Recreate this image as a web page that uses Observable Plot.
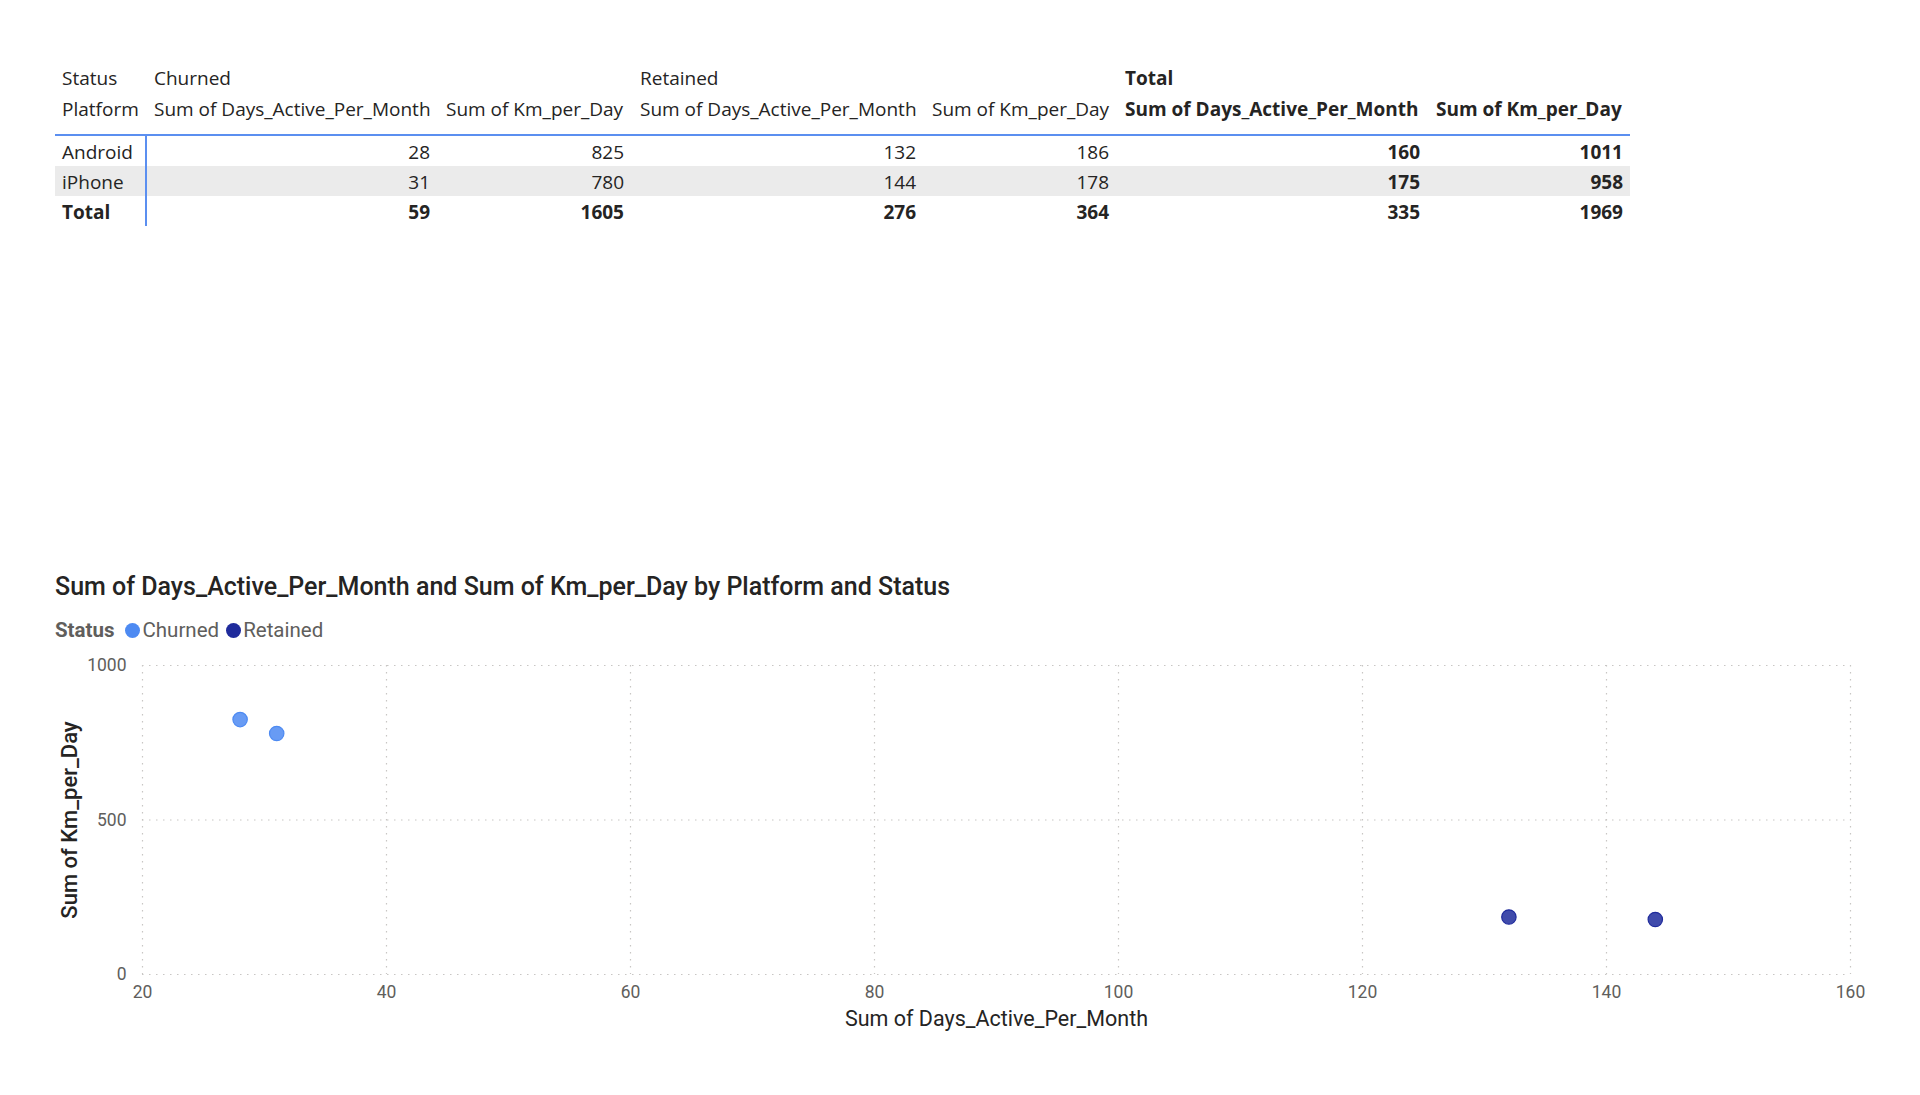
<!DOCTYPE html>
<html>
<head>
<meta charset="utf-8">
<script src="https://cdn.jsdelivr.net/npm/d3@7"></script>
<script src="https://cdn.jsdelivr.net/npm/@observablehq/plot@0.6"></script>
<style>
  body { margin: 0; background: #fff; width: 1920px; height: 1095px; position: relative; overflow: hidden; }
  .cell { position: absolute; height: 30px; line-height: 30px; font-family: "Open Sans", sans-serif; font-size: 19px; color: #252423; white-space: nowrap; box-sizing: border-box; padding: 0 8px; }
  .bold { font-weight: 700; }
  .right { text-align: right; }
  #title { position: absolute; left: 55px; top: 572px; font-family: Roboto, sans-serif; font-size: 25px; font-weight: 500; color: #252423; white-space: nowrap; }
  #legend { position: absolute; left: 55px; top: 618px; font-family: Roboto, sans-serif; font-size: 20.5px; color: #605e5c; display: flex; align-items: center; white-space: nowrap; }
  #legend b { margin-right: 11px; }
  #legend .sw { display: inline-block; width: 15px; height: 15px; border-radius: 50%; margin-right: 2px; }
  #legend .item { display: flex; align-items: center; margin-right: 7px; }
  #chart { position: absolute; left: 0; top: 640px; }
</style>
</head>
<body>
<div id="table"></div>
<div id="title">Sum of Days_Active_Per_Month and Sum of Km_per_Day by Platform and Status</div>
<div id="legend"></div>
<div id="chart"></div>
<script>
// values
const platforms = ["Android", "iPhone"];
const statuses = ["Churned", "Retained"];
const churnedDays = [28, 31];
const churnedKm = [825, 780];
const retainedDays = [132, 144];
const retainedKm = [186, 178];
const measures = ["Sum of Days_Active_Per_Month", "Sum of Km_per_Day"];
const statusColors = ["#4d8af2", "#1f2b9c"];
const xTicks = [20, 40, 60, 80, 100, 120, 140, 160];
const yTicks = [0, 500, 1000];

// ---- matrix table ----
const colLefts = [55, 146, 438, 632, 924, 1117, 1428];
const colWidths = [91, 292, 194, 292, 193, 311, 203];
const rowTops = {h1: 63, h2: 94, r0: 137, r1: 167, tot: 197};
const tbl = d3.select("#table");

function cell(text, col, top, cls) {
  tbl.append("div")
    .attr("class", "cell " + (cls || ""))
    .style("left", colLefts[col] + "px")
    .style("top", top + "px")
    .style("width", colWidths[col] + "px")
    .style("padding-left", col === 0 ? "7px" : null)
    .text(text);
}

// iPhone row band
tbl.append("div")
  .style("position", "absolute").style("left", "55px").style("top", "166px")
  .style("width", "1575px").style("height", "30px").style("background", "#ebebeb");

cell("Status", 0, rowTops.h1);
cell("Churned", 1, rowTops.h1);
cell("Retained", 3, rowTops.h1);
cell("Total", 5, rowTops.h1, "bold");
cell("Platform", 0, rowTops.h2);
[1, 3].forEach(c => { cell(measures[0], c, rowTops.h2); cell(measures[1], c + 1, rowTops.h2); });
cell(measures[0], 5, rowTops.h2, "bold");
cell(measures[1], 6, rowTops.h2, "bold");

const rowKeys = ["r0", "r1"];
platforms.forEach((p, i) => {
  const top = rowTops[rowKeys[i]];
  cell(p, 0, top);
  cell(churnedDays[i], 1, top, "right");
  cell(churnedKm[i], 2, top, "right");
  cell(retainedDays[i], 3, top, "right");
  cell(retainedKm[i], 4, top, "right");
  cell(churnedDays[i] + retainedDays[i], 5, top, "right bold");
  cell(churnedKm[i] + retainedKm[i], 6, top, "right bold");
});
cell("Total", 0, rowTops.tot, "bold");
cell(d3.sum(churnedDays), 1, rowTops.tot, "right bold");
cell(d3.sum(churnedKm), 2, rowTops.tot, "right bold");
cell(d3.sum(retainedDays), 3, rowTops.tot, "right bold");
cell(d3.sum(retainedKm), 4, rowTops.tot, "right bold");
cell(d3.sum(churnedDays) + d3.sum(retainedDays), 5, rowTops.tot, "right bold");
cell(d3.sum(churnedKm) + d3.sum(retainedKm), 6, rowTops.tot, "right bold");

// header rule and row-header rule
tbl.append("div")
  .style("position", "absolute").style("left", "55px").style("top", "134px")
  .style("width", "1575px").style("height", "1.5px").style("background", "#5b8ff0");
tbl.append("div")
  .style("position", "absolute").style("left", "145px").style("top", "135px")
  .style("width", "1.5px").style("height", "91px").style("background", "#5b8ff0");

// ---- legend ----
const legend = d3.select("#legend");
legend.append("b").text("Status");
statuses.forEach((s, i) => {
  const it = legend.append("span").attr("class", "item");
  it.append("span").attr("class", "sw").style("background", statusColors[i]);
  it.append("span").text(s);
});

// ---- scatter ----
const points = [];
platforms.forEach((p, i) => {
  points.push({platform: p, status: "Churned", days: churnedDays[i], km: churnedKm[i]});
  points.push({platform: p, status: "Retained", days: retainedDays[i], km: retainedKm[i]});
});

const gridStyle = {stroke: "#c8c6c4", strokeOpacity: 1, strokeWidth: 1.2, strokeDasharray: "1.5,5.5"};

const chart = Plot.plot({
  width: 1920,
  height: 394,
  marginTop: 25,
  marginLeft: 142,
  marginRight: 70,
  marginBottom: 60,
  style: {fontFamily: "Roboto, sans-serif", fontSize: "17px", color: "#605e5c", background: "transparent"},
  x: {domain: [20, 160]},
  y: {domain: [0, 1000]},
  color: {domain: statuses, range: statusColors},
  marks: [
    Plot.gridX(xTicks, gridStyle),
    Plot.gridY(yTicks, gridStyle),
    Plot.axisX(xTicks, {tickSize: 0, tickPadding: 11, label: null, fill: "#605e5c", fontSize: 17.5, tickFormat: d => String(d)}),
    Plot.axisY(yTicks, {tickSize: 0, tickPadding: 16, label: null, fill: "#605e5c", fontSize: 17.5, tickFormat: d => String(d)}),
    Plot.dot(points, {
      x: "days", y: "km", r: 7.2,
      fill: "status", fillOpacity: 0.85,
      stroke: "status", strokeWidth: 1.2,
      title: d => `${d.platform} / ${d.status}\n${measures[0]}: ${d.days}\n${measures[1]}: ${d.km}`
    }),
    Plot.text([measures[0]], {frameAnchor: "bottom", dy: 51, fontSize: 21.5, fill: "#252423"}),
    Plot.text([measures[1]], {frameAnchor: "left", dx: -73, rotate: -90, textAnchor: "middle", fontSize: 22, fill: "#252423", fontWeight: 500})
  ]
});
document.getElementById("chart").append(chart);
</script>
</body>
</html>
